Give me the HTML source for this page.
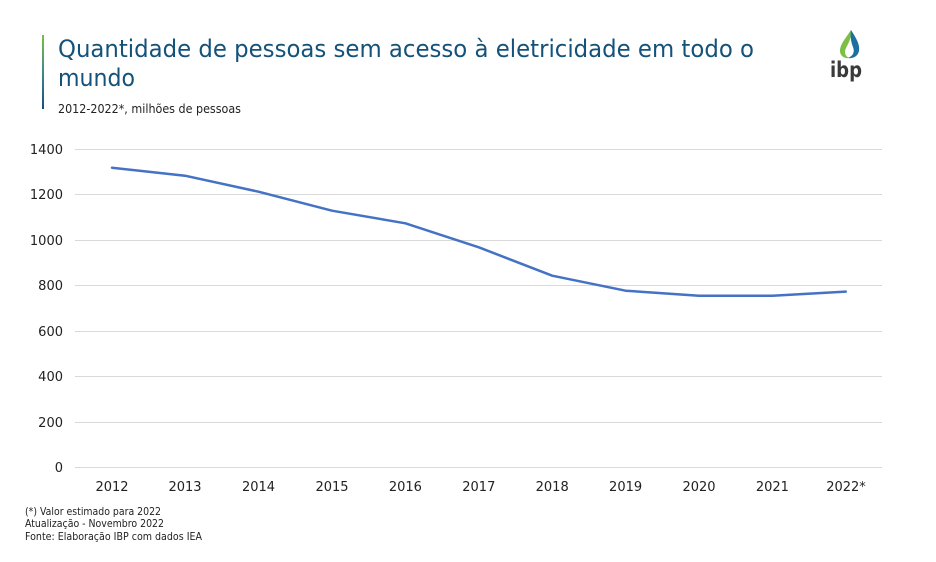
<!DOCTYPE html>
<html><head><meta charset="utf-8"><style>
html,body{margin:0;padding:0;background:#fff;}
svg{display:block;}
text{font-family:"DejaVu Sans","Liberation Sans",sans-serif;}
</style></head><body>
<svg width="936" height="562" viewBox="0 0 936 562" xmlns="http://www.w3.org/2000/svg">
<defs>
<linearGradient id="vg" x1="0" y1="0" x2="0" y2="1">
<stop offset="0" stop-color="#7cbf45"/>
<stop offset="0.5" stop-color="#3f8a8a"/>
<stop offset="1" stop-color="#1a4f80"/>
</linearGradient>
<linearGradient id="dg" x1="0" y1="0" x2="1" y2="0">
<stop offset="0" stop-color="#7cbf45"/>
<stop offset="1" stop-color="#1d6fa0"/>
</linearGradient>
</defs>
<rect x="42" y="35" width="2" height="74" fill="url(#vg)"/>
<text x="58" y="57" font-size="24" fill="#14527a" textLength="696" lengthAdjust="spacingAndGlyphs">Quantidade de pessoas sem acesso à eletricidade em todo o</text>
<text x="58" y="86" font-size="24" fill="#14527a" textLength="77" lengthAdjust="spacingAndGlyphs">mundo</text>
<text x="58" y="113" font-size="12.5" fill="#222" textLength="183" lengthAdjust="spacingAndGlyphs">2012-2022*, milhões de pessoas</text>
<!-- logo -->
<path d="M851 30 C846 38 840 44 840 51 C840 56 845 59 849 58 C845 56 844 52 846 48 C848 44 852 38 851 30 Z" fill="#7cbf45"/>
<path d="M851 30 C856 38 860 44 859 51 C858 56 853 59 848 58 C853 56 855 52 853 47 C851 42 850 36 851 30 Z" fill="#1d6fa0"/>
<text x="830" y="77" font-size="21" font-weight="bold" fill="#3a3a3a" font-family="Liberation Sans, sans-serif" textLength="32" lengthAdjust="spacingAndGlyphs">ibp</text>
<!-- grid -->
<g stroke="#d9d9d9" stroke-width="1">
<line x1="75" y1="149.5" x2="882" y2="149.5"/>
<line x1="75" y1="194.5" x2="882" y2="194.5"/>
<line x1="75" y1="240.5" x2="882" y2="240.5"/>
<line x1="75" y1="285.5" x2="882" y2="285.5"/>
<line x1="75" y1="331.5" x2="882" y2="331.5"/>
<line x1="75" y1="376.5" x2="882" y2="376.5"/>
<line x1="75" y1="422.5" x2="882" y2="422.5"/>
<line x1="75" y1="467.5" x2="882" y2="467.5"/>
</g>
<g font-size="13" fill="#222" text-anchor="end">
<text x="63" y="154">1400</text>
<text x="63" y="199">1200</text>
<text x="63" y="245">1000</text>
<text x="63" y="290">800</text>
<text x="63" y="336">600</text>
<text x="63" y="381">400</text>
<text x="63" y="427">200</text>
<text x="63" y="472">0</text>
</g>
<g font-size="13" fill="#222" text-anchor="middle">
<text x="112" y="491">2012</text>
<text x="185" y="491">2013</text>
<text x="258.5" y="491">2014</text>
<text x="332" y="491">2015</text>
<text x="405.4" y="491">2016</text>
<text x="478.8" y="491">2017</text>
<text x="552.2" y="491">2018</text>
<text x="625.6" y="491">2019</text>
<text x="699" y="491">2020</text>
<text x="772.4" y="491">2021</text>
<text x="846" y="491">2022*</text>
</g>
<polyline fill="none" stroke="#4472c4" stroke-width="2.5" stroke-linejoin="round" stroke-linecap="round"
points="112,167.7 185,175.7 258.5,191.7 332,210.7 405.4,223.3 478.8,247.3 552.2,275.7 625.6,290.7 699,295.7 772.4,295.7 845.8,291.6"/>
<g font-size="10.5" fill="#222">
<text x="25" y="515" textLength="136" lengthAdjust="spacingAndGlyphs">(*) Valor estimado para 2022</text>
<text x="25" y="527" textLength="139" lengthAdjust="spacingAndGlyphs">Atualização - Novembro 2022</text>
<text x="25" y="540" textLength="177" lengthAdjust="spacingAndGlyphs">Fonte: Elaboração IBP com dados IEA</text>
</g>
</svg>
</body></html>
